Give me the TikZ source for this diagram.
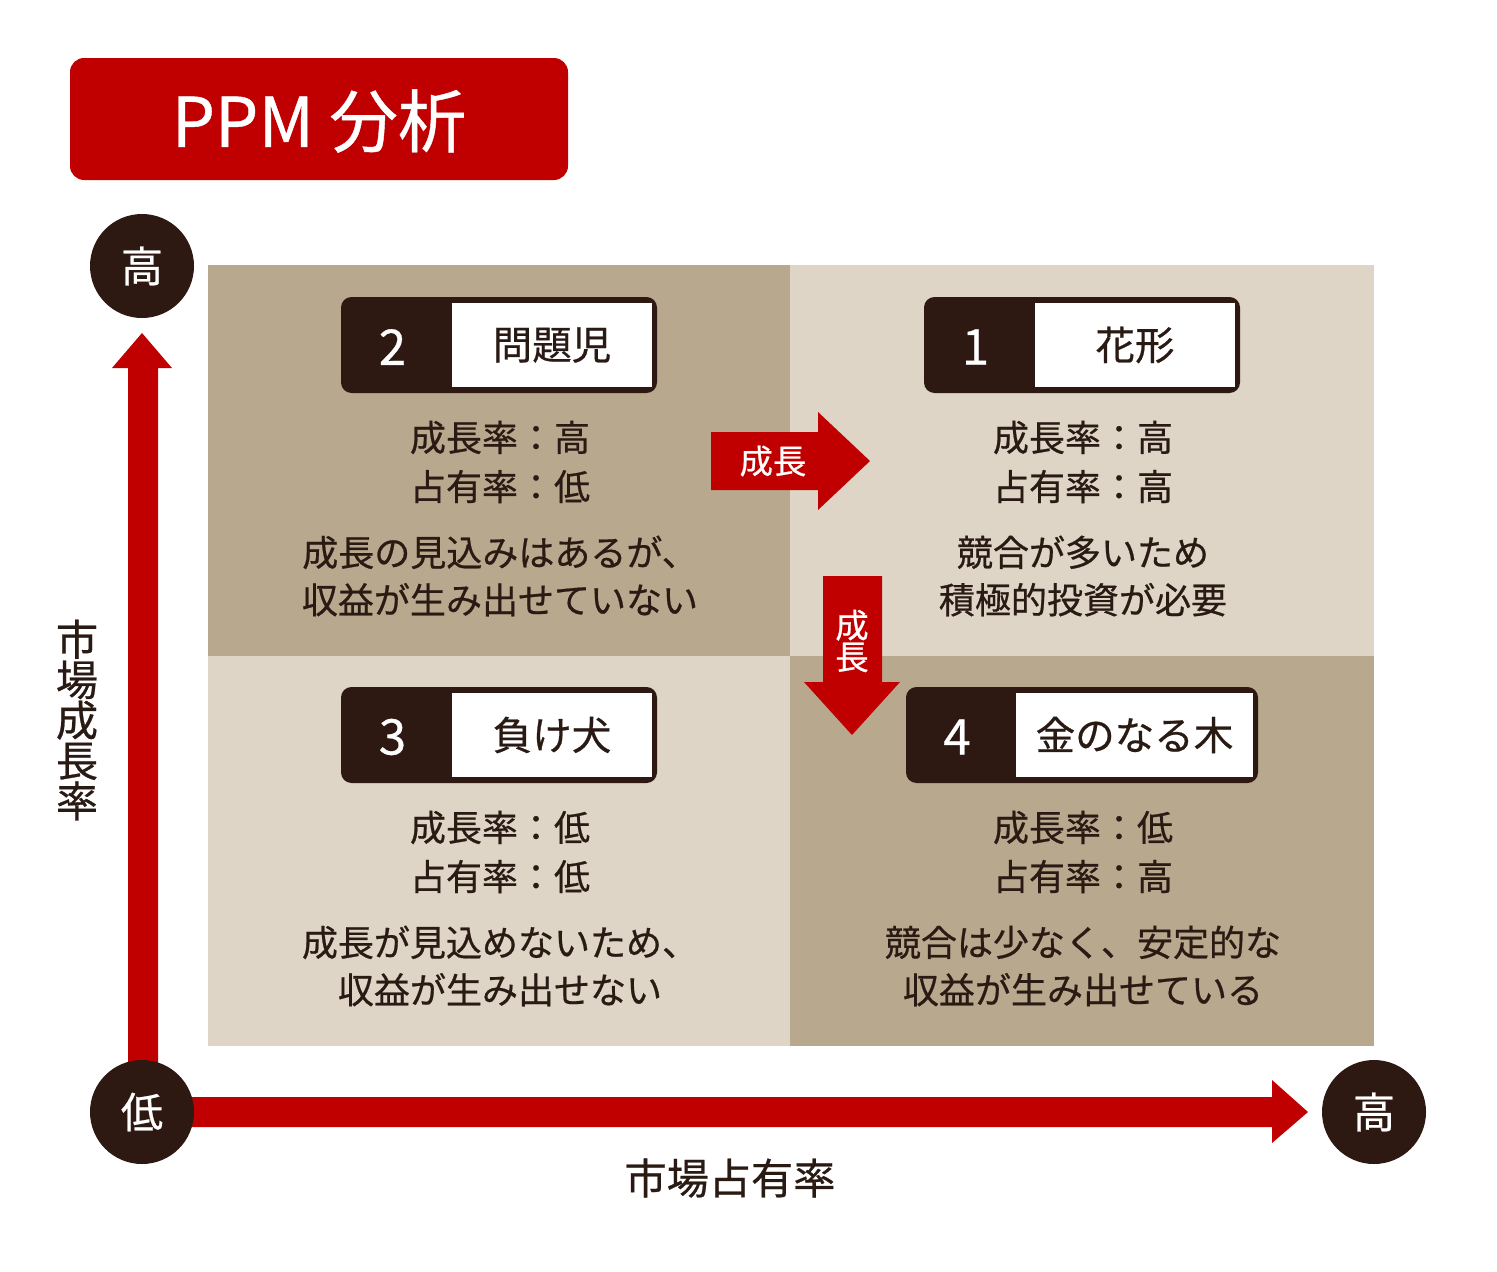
\documentclass[tikz,border=0pt]{standalone}
\usepackage{fontspec}
\setmainfont{Noto Sans CJK JP}
\newfontfamily\jpm{Noto Sans CJK JP}[FakeBold=0.6]
\begin{document}
\begin{tikzpicture}[x=0.02cm,y=-0.02cm,
 body/.style={font=\jpm\fontsize{20.5}{23}\selectfont,text=txt,align=center},
 lab/.style={font=\jpm\fontsize{22.5}{26}\selectfont,text=txt},
 num/.style={font=\jpm\fontsize{28}{30}\selectfont,text=white},
 circ/.style={circle,fill=brn,minimum size=104*0.02cm,inner sep=0pt,text=white,font=\jpm\fontsize{24}{26}\selectfont}]
\definecolor{redc}{HTML}{C00000}
\definecolor{brn}{HTML}{2E1812}
\definecolor{qd}{HTML}{B8A98E}
\definecolor{ql}{HTML}{DED5C6}
\definecolor{txt}{HTML}{2A1A14}
\useasboundingbox (0,0) rectangle (1497,1271);
% title
\fill[redc,rounded corners=8] (70,58) rectangle (568,180);
\node[text=white,font=\jpm\fontsize{39}{44}\selectfont] (title) at (319,121) {PPM 分析};
% quadrants
\fill[qd] (208,265) rectangle (790,656);
\fill[ql] (790,265) rectangle (1374,656);
\fill[ql] (208,656) rectangle (790,1046);
\fill[qd] (790,656) rectangle (1374,1046);
% label boxes
\foreach \x/\y/\xw/\xe/\n/\t/\nm in {341/297/452/657/2/問題児/b2, 924/297/1035/1240/1/花形/b1, 341/687/452/657/3/負け犬/b3, 906/687/1016/1258/4/金のなる木/b4}{
 \fill[brn,rounded corners=6] (\x,\y) rectangle (\xe,\y+96);
 \fill[white] (\xw,\y+6) rectangle (\xe-5,\y+90);
 \node[num] (\nm n) at ({(\x+\xw)/2-4},\y+50) {\n};
 \node[lab] (\nm t) at ({(\xw+\xe-5)/2},\y+48) {\t};
}
% texts
\node[body] (t2a) at (500,462) {成長率：高\\[5pt]占有率：低};
\node[body] (t2b) at (500,576) {成長の見込みはあるが、\\[4pt]収益が生み出せていない};
\node[body] (t1a) at (1083,462) {成長率：高\\[5pt]占有率：高};
\node[body] (t1b) at (1083,576) {競合が多いため\\[4pt]積極的投資が必要};
\node[body] (t3a) at (500,852) {成長率：低\\[5pt]占有率：低};
\node[body] (t3b) at (500,966) {成長が見込めないため、\\[4pt]収益が生み出せない};
\node[body] (t4a) at (1083,852) {成長率：低\\[5pt]占有率：高};
\node[body] (t4b) at (1083,966) {競合は少なく、安定的な\\[4pt]収益が生み出せている};
% growth arrows
\fill[redc] (711,432) -- (818,432) -- (818,412) -- (870,461) -- (818,510) -- (818,490) -- (711,490) -- cycle;
\node[text=white,font=\jpm\fontsize{19}{20}\selectfont] (g1) at (773,461) {成長};
\fill[redc] (823,576) -- (882,576) -- (882,682) -- (900,682) -- (852,735) -- (804,682) -- (823,682) -- cycle;
\node[text=white,font=\jpm\fontsize{19}{20}\selectfont,align=center] (g2) at (852,641) {成\\[-2pt]長};
% axes
\fill[redc] (128,1105) -- (128,368) -- (112,368) -- (142,333) -- (172,368) -- (158,368) -- (158,1105) -- cycle;
\fill[redc] (142,1097) -- (1272,1097) -- (1272,1080) -- (1308,1112) -- (1272,1143) -- (1272,1127) -- (142,1127) -- cycle;
\node[circ] (hi1) at (142,266) {高};
\node[circ] (lo) at (142,1112) {低};
\node[circ] (hi2) at (1374,1112) {高};
\node[text=txt,font=\jpm\fontsize{24}{26}\selectfont,align=center] (yl) at (77,720) {市\\[-3pt]場\\[-3pt]成\\[-3pt]長\\[-3pt]率};
\node[text=txt,font=\jpm\fontsize{24}{26}\selectfont] (xl) at (730,1178) {市場占有率};
\end{tikzpicture}
\end{document}
